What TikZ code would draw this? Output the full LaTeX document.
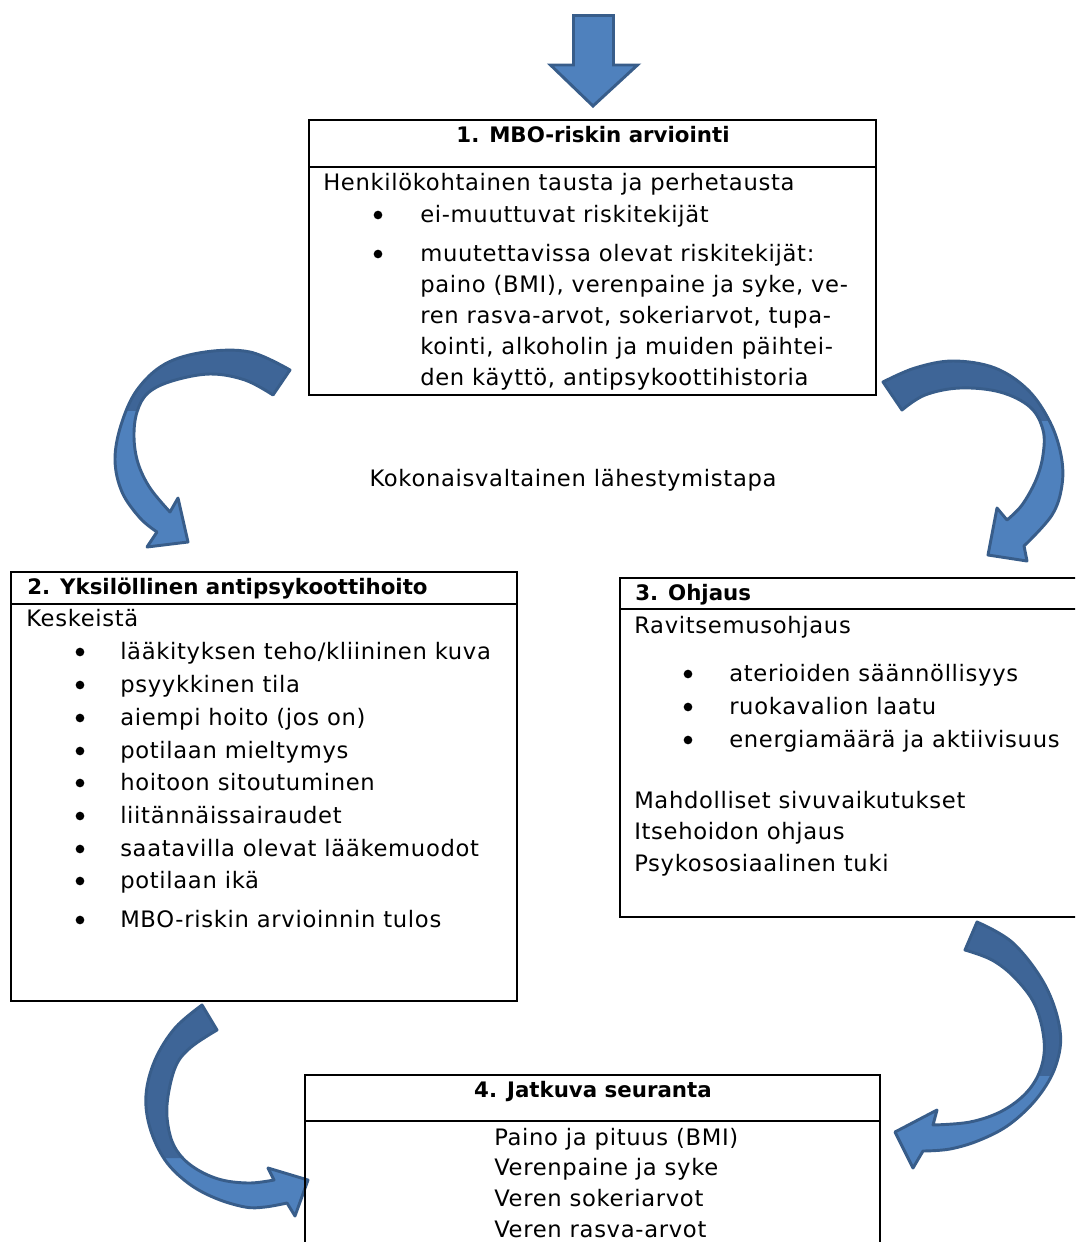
\documentclass[tikz,border=0pt]{standalone}
\usepackage{fontspec}
\setmainfont{DejaVu Sans}[LetterSpace=3]
\newfontfamily\titlefont{DejaVu Sans}
\usetikzlibrary{fit}
\definecolor{arrlight}{RGB}{79,129,189}
\definecolor{arrdark}{RGB}{62,101,151}
\definecolor{arredge}{RGB}{56,93,138}
\newcommand\fs{\fontsize{17}{20}\selectfont}
\newcommand\fsb{\titlefont\bfseries\fontsize{16}{19}\selectfont}
\newcommand\pathA{plot[smooth,tension=0.6] coordinates {(290,370) (250,352) (205,352) (165,364) (137,390) (121,425) (115,460) (122,492) (140,518) (157,532)} -- (147,547) -- (188,542) -- (178,498) -- plot[smooth,tension=0.6] coordinates {(170,512) (150,488) (138,463) (134,437) (137,412) (148,393) (172,381) (210,374) (245,380) (273,395)} -- cycle}
\newcommand\pathB{plot[smooth,tension=0.6] coordinates {(883,382) (915,368) (953,361) (995,368) (1028,390) (1050,422) (1061,455) (1062,485) (1052,515) (1024,546)} -- (1027,561) -- (988,555) -- (997,508) -- plot[smooth,tension=0.6] coordinates {(1007,520) (1022,505) (1036,480) (1043,455) (1043,430) (1030,407) (1000,392) (960,388) (925,395) (902,410)} -- cycle}
\newcommand\pathC{plot[smooth,tension=0.6] coordinates {(202,1005) (175,1028) (155,1060) (146,1095) (150,1128) (165,1160) (188,1183) (215,1198) (245,1207) (265,1207) (287,1203)} -- (295,1216) -- (308,1180) -- (268,1168) -- plot[smooth,tension=0.6] coordinates {(274,1180) (250,1183) (222,1180) (198,1170) (180,1155) (170,1135) (167,1105) (175,1068) (190,1048) (217,1030)} -- cycle}
\newcommand\pathD{plot[smooth,tension=0.6] coordinates {(977,922) (1013,943) (1045,985) (1060,1030) (1056,1065) (1038,1097) (1010,1124) (980,1140) (950,1149) (923,1151)} -- (913,1168) -- (895,1132) -- (937,1110) -- plot[smooth,tension=0.6] coordinates {(933,1125) (970,1122) (1002,1111) (1027,1092) (1041,1068) (1044,1040) (1035,1005) (1015,978) (992,960) (965,950)} -- cycle}
\tikzset{
  txt/.style={anchor=mid west, inner sep=0pt, font=\fs, yshift=-3pt},
  ttl/.style={anchor=mid, inner sep=0pt, font=\fsb, yshift=-3pt},
  bul/.style={circle, fill=black, inner sep=0pt, minimum size=6.5pt},
  box/.style={draw=black, line width=1.5pt, inner sep=0pt},
  arrline/.style={draw=arredge, line width=2.2pt, line join=round},
}
\begin{document}
\begin{tikzpicture}[x=0.75pt,y=-0.75pt]
\useasboundingbox (0,0) rectangle (1075,1242);
\clip (0,0) rectangle (1075,1242);
% top arrow
\filldraw[fill=arrlight, arrline, line join=miter] (573.5,15.5) -- (613.5,15.5) -- (613.5,65) -- (637.5,65) -- (593,106) -- (550.5,65) -- (573.5,65) -- cycle;
% curved arrows: light front part, dark back part above the twist
\foreach \p/\c in {A/{(90,410) rectangle (320,330)},
                   B/{(860,420) rectangle (1080,330)},
                   C/{(120,1158) -- (200,1158) -- (200,1060) -- (240,1060) -- (240,990) -- (120,990) -- cycle},
                   D/{(940,1075) rectangle (1080,900)}}{
  \fill[arrlight] \csname path\p\endcsname;
  \begin{scope}
    \clip \c;
    \fill[arrdark] \csname path\p\endcsname;
  \end{scope}
}
\draw[arrline] \pathA;
\draw[arrline] \pathB;
\draw[arrline] \pathC;
\draw[arrline] \pathD;
% boxes
\node[box, fit={(309,120) (876,395)}] (box1) {};
\node[box, fit={(11,572) (517,1001)}] (box2) {};
\node[box, fit={(620,578) (1090,917)}] (box3) {};
\node[box, fit={(305,1075) (880,1260)}] (box4) {};
\draw[line width=1.5pt] (box1.west |- 0,167) -- (box1.east |- 0,167);
\draw[line width=1.5pt] (box2.west |- 0,604) -- (box2.east |- 0,604);
\draw[line width=1.5pt] (box3.west |- 0,609) -- (box3.east |- 0,609);
\draw[line width=1.5pt] (box4.west |- 0,1121) -- (box4.east |- 0,1121);
% box 1
\node[ttl] (h1) at (593,135) {1. MBO-riskin arviointi};
\node[txt] (l10) at (323,183) {Henkilökohtainen tausta ja perhetausta};
\node[bul] (d11) at (378,215) {};
\node[txt] (l11) at (420,215) {ei-muuttuvat riskitekijät};
\node[bul] (d12) at (378,254) {};
\node[txt] (l12) at (420,254) {muutettavissa olevat riskitekijät:};
\node[txt] (l13) at (420,285) {paino (BMI), verenpaine ja syke, ve-};
\node[txt] (l14) at (420,316) {ren rasva-arvot, sokeriarvot, tupa-};
\node[txt] (l15) at (420,347) {kointi, alkoholin ja muiden päihtei-};
\node[txt] (l16) at (420,378) {den käyttö, antipsykoottihistoria};
% middle
\node[anchor=mid, inner sep=0pt, font=\fs, yshift=-3pt] (mid) at (573,479) {Kokonaisvaltainen lähestymistapa};
% box 2
\node[ttl, anchor=mid west] (h2) at (27,587) {2. Yksilöllinen antipsykoottihoito};
\node[txt] (l20) at (26,619) {Keskeistä};
\node[bul] (d21) at (80,652) {}; \node[txt] (l21) at (120,652) {lääkityksen teho/kliininen kuva};
\node[bul] (d22) at (80,685) {}; \node[txt] (l22) at (120,685) {psyykkinen tila};
\node[bul] (d23) at (80,718) {}; \node[txt] (l23) at (120,718) {aiempi hoito (jos on)};
\node[bul] (d24) at (80,751) {}; \node[txt] (l24) at (120,751) {potilaan mieltymys};
\node[bul] (d25) at (80,783) {}; \node[txt] (l25) at (120,783) {hoitoon sitoutuminen};
\node[bul] (d26) at (80,816) {}; \node[txt] (l26) at (120,816) {liitännäissairaudet};
\node[bul] (d27) at (80,849) {}; \node[txt] (l27) at (120,849) {saatavilla olevat lääkemuodot};
\node[bul] (d28) at (80,881) {}; \node[txt] (l28) at (120,881) {potilaan ikä};
\node[bul] (d29) at (80,920) {}; \node[txt] (l29) at (120,920) {MBO-riskin arvioinnin tulos};
% box 3
\node[ttl, anchor=mid west] (h3) at (635,593) {3. Ohjaus};
\node[txt] (l30) at (634,626) {Ravitsemusohjaus};
\node[bul] (d31) at (688,674) {}; \node[txt] (l31) at (729,674) {aterioiden säännöllisyys};
\node[bul] (d32) at (688,707) {}; \node[txt] (l32) at (729,707) {ruokavalion laatu};
\node[bul] (d33) at (688,740) {}; \node[txt] (l33) at (729,740) {energiamäärä ja aktiivisuus};
\node[txt] (l34) at (634,801) {Mahdolliset sivuvaikutukset};
\node[txt] (l35) at (634,832) {Itsehoidon ohjaus};
\node[txt] (l36) at (634,864) {Psykososiaalinen tuki};
% box 4
\node[ttl] (h4) at (593,1090) {4. Jatkuva seuranta};
\node[txt] (l41) at (494,1138) {Paino ja pituus (BMI)};
\node[txt] (l42) at (494,1168) {Verenpaine ja syke};
\node[txt] (l43) at (494,1199) {Veren sokeriarvot};
\node[txt] (l44) at (494,1230) {Veren rasva-arvot};
\end{tikzpicture}
\end{document}
